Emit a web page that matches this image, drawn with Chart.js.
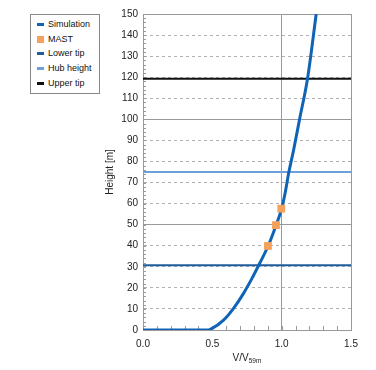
<!DOCTYPE html>
<html>
<head>
<meta charset="utf-8">
<script src="https://cdn.jsdelivr.net/npm/chart.js@4.4.1/dist/chart.umd.min.js"></script>
<style>
  body { margin: 0; background: #fff; }
  #wrap { position: relative; width: 376px; height: 370px; }
  #legend {
    position: absolute; left: 30px; top: 14px; width: 68px;
    border: 1px solid #888; background: #fff;
    font: 9px "Liberation Sans", Arial, sans-serif; color: #111;
    padding: 2px 0 3px 0;
  }
  #legend div { height: 14.7px; line-height: 14.7px; position: relative; padding-left: 17px; white-space: nowrap; }
  #legend span { position: absolute; left: 6px; }
</style>
</head>
<body>
<div id="wrap">
  <canvas id="chart" width="376" height="370"></canvas>
  <div id="legend"></div>
</div>
<script>
// simulated profile (V/V59m, height)
let simV = [0, 0.46, 0.485, 0.581, 0.653, 0.725, 0.786, 0.838, 0.903, 0.961, 1.0, 1.025, 1.052, 1.086, 1.129, 1.187, 1.249];
let simH = [0, 0, 0.3, 4.7, 10.3, 17.4, 24.5, 31.2, 40, 50, 57.6, 65, 75, 85.4, 100, 119.5, 150];

// met mast measurements
let mastV = [0.901, 0.959, 0.997];
let mastH = [39.9, 49.8, 57.6];

// rotor heights
let lowerTip = 30.75;
let hubHeight = 75;
let upperTip = 119.25;

let xRange = [0, 1.5];

const colSim = "#0f64b6";
const colMast = "#f4a15c";
const colLower = "#1f5c9c";
const colHub = "#6d9fd8";
const colUpper = "#111111";

function hline(h) {
    return [{ x: xRange[0], y: h }, { x: xRange[1], y: h }];
}

// legend (html, like the box in the original)
const legendItems = [
    { label: "Simulation", color: colSim, box: false },
    { label: "MAST", color: colMast, box: true },
    { label: "Lower tip", color: colLower, box: false },
    { label: "Hub height", color: colHub, box: false },
    { label: "Upper tip", color: colUpper, box: false }
];
const legendEl = document.getElementById("legend");
legendItems.forEach(item => {
    const row = document.createElement("div");
    const sym = document.createElement("span");
    if (item.box) {
        sym.style.cssText = "top:4px;width:7px;height:7px;background:" + item.color;
    } else {
        sym.style.cssText = "top:6px;width:7px;height:3px;background:" + item.color;
    }
    row.appendChild(sym);
    row.appendChild(document.createTextNode(item.label));
    legendEl.appendChild(row);
});

// small inner ticks + x title with subscript
const extras = {
    id: "extras",
    beforeDatasetsDraw(chart) {
        const ctx = chart.ctx;
        const xs = chart.scales.x, ys = chart.scales.y;
        const area = chart.chartArea;
        ctx.save();
        ctx.strokeStyle = "#999";
        ctx.lineWidth = 1;
        ctx.beginPath();
        for (let v = 2; v < 150; v += 2) {
            const py = Math.round(ys.getPixelForValue(v)) + 0.5;
            ctx.moveTo(area.left, py);
            ctx.lineTo(area.left + 3, py);
        }
        for (let i = 1; i < 15; i++) {
            const px = Math.round(xs.getPixelForValue(i / 10)) + 0.5;
            ctx.moveTo(px, area.bottom);
            ctx.lineTo(px, area.bottom - 4);
        }
        ctx.stroke();
        ctx.restore();
    },
    afterDraw(chart) {
        const ctx = chart.ctx;
        const area = chart.chartArea;
        const cx = (area.left + area.right) / 2;
        const y = 357;
        ctx.save();
        ctx.fillStyle = "#222";
        ctx.textBaseline = "alphabetic";
        ctx.font = '10px "Liberation Sans", Arial, sans-serif';
        const main = "V/V";
        const w1 = ctx.measureText(main).width;
        ctx.font = '6.5px "Liberation Sans", Arial, sans-serif';
        const sub = "59m";
        const w2 = ctx.measureText(sub).width;
        const x0 = cx - (w1 + w2) / 2;
        ctx.font = '10px "Liberation Sans", Arial, sans-serif';
        ctx.fillText(main, x0, y + 4);
        ctx.font = '6.5px "Liberation Sans", Arial, sans-serif';
        ctx.fillText(sub, x0 + w1, y + 6);
        ctx.restore();
    }
};

const ctx = document.getElementById("chart").getContext("2d");

new Chart(ctx, {
    type: "scatter",
    data: {
        datasets: [
            {
                label: "MAST",
                data: mastV.map((v, i) => ({ x: v, y: mastH[i] })),
                pointStyle: "rect",
                pointRadius: 5.5,
                backgroundColor: colMast,
                borderColor: colMast,
                borderWidth: 0,
                order: 0
            },
            {
                label: "Simulation",
                data: simV.map((v, i) => ({ x: v, y: simH[i] })),
                showLine: true,
                borderColor: colSim,
                borderWidth: 3,
                pointRadius: 0,
                cubicInterpolationMode: "monotone",
                order: 1
            },
            {
                label: "Lower tip",
                data: hline(lowerTip),
                showLine: true,
                borderColor: colLower,
                borderWidth: 2,
                pointRadius: 0,
                order: 2
            },
            {
                label: "Hub height",
                data: hline(hubHeight),
                showLine: true,
                borderColor: colHub,
                borderWidth: 2,
                pointRadius: 0,
                order: 2
            },
            {
                label: "Upper tip",
                data: hline(upperTip),
                showLine: true,
                borderColor: colUpper,
                borderWidth: 2,
                pointRadius: 0,
                order: 2
            }
        ]
    },
    options: {
        responsive: false,
        animation: false,
        layout: { padding: { left: 104, right: 25, top: 14, bottom: 0 } },
        plugins: {
            legend: { display: false },
            tooltip: { enabled: false }
        },
        scales: {
            x: {
                type: "linear",
                min: xRange[0],
                max: xRange[1],
                afterFit: s => { s.height = 40; },
                ticks: {
                    stepSize: 0.5,
                    padding: 8,
                    color: "#222",
                    font: { family: '"Liberation Sans", Arial, sans-serif', size: 10 },
                    callback: v => Number(v).toFixed(1)
                },
                grid: {
                    drawTicks: false,
                    lineWidth: 1,
                    color: c => (c.tick && (c.tick.value === 1 || c.tick.value === 1.5)) ? "#999" : "rgba(0,0,0,0)"
                },
                border: { color: "#999", width: 1 }
            },
            y: {
                min: 0,
                max: 150,
                afterFit: s => { s.width = 39; },
                title: {
                    display: true,
                    text: "Height [m]",
                    color: "#222",
                    padding: { top: 0, bottom: 0 },
                    font: { family: '"Liberation Sans", Arial, sans-serif', size: 10 }
                },
                ticks: {
                    stepSize: 10,
                    padding: 5,
                    color: "#222",
                    font: { family: '"Liberation Sans", Arial, sans-serif', size: 10 }
                },
                grid: {
                    drawTicks: false,
                    lineWidth: 1,
                    color: c => (c.tick && c.tick.value % 50 === 0) ? "#999" : "#b0b0b0"
                },
                border: {
                    color: "#999",
                    width: 1,
                    dash: c => (c.tick && c.tick.value % 50 !== 0) ? [3, 3] : []
                }
            }
        }
    },
    plugins: [extras]
});
</script>
</body>
</html>
